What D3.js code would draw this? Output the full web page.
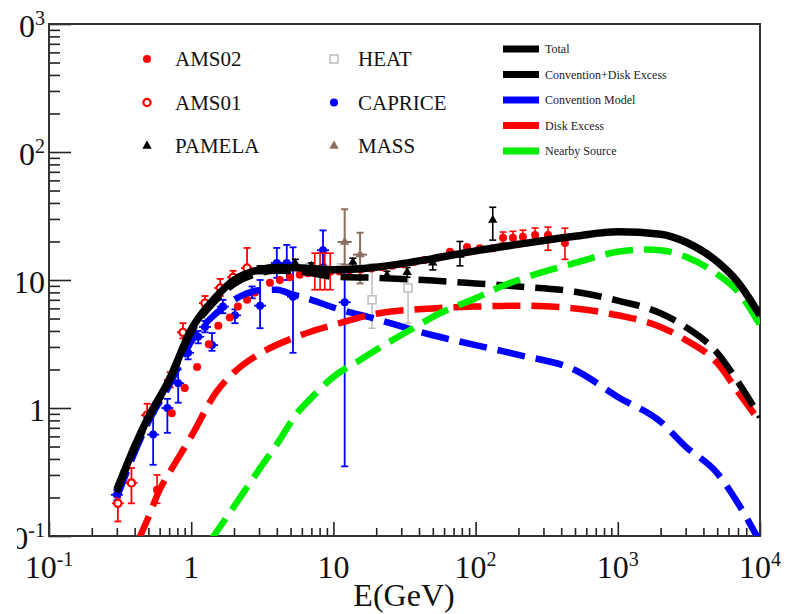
<!DOCTYPE html>
<html><head><meta charset="utf-8">
<script src="https://cdn.jsdelivr.net/npm/d3@7"></script>
<style>
body{margin:0;background:#fff}
svg{display:block}
</style>
</head><body>
<svg id="c" width="795" height="614" font-family="'Liberation Serif','Times New Roman',Times,serif"></svg>
<script>
// ---------- data ----------
const curveE   = [0.3,0.4,0.5,0.7,1,1.5,2,3,4,5,7,10,20,50,100,200,500,1000,2000,3000,5000,7000,10000];
const total    = [0.23,0.5,0.85,1.66,4.1,7.4,10,12,12.5,12.5,12.3,12.0,12.6,14.7,16.9,19.0,22.0,23.8,22.8,19.8,13.9,9.6,5.3];
const convDisk = [0.22,0.48,0.82,1.6,3.9,7.0,9.3,11.3,11.8,11.8,11.3,10.6,10.4,9.9,9.4,8.9,8.1,6.9,5.5,4.3,2.7,1.6,0.85];
const conv     = [0.2,0.45,0.78,1.5,3.3,5.5,7.0,8.3,8.4,7.8,7.0,6.1,4.95,3.7,3.1,2.6,1.98,1.22,0.78,0.5,0.31,0.18,0.09];
const diskE    = [0.42,0.5,0.6,0.7,1,1.5,2,3,5,7,10,20,50,100,200,500,1000,2000,3000,5000,7000,10000];
const disk     = [0.09,0.14,0.23,0.31,0.6,1.33,1.9,2.64,3.46,3.96,4.45,5.45,6.0,6.2,6.3,6.0,5.3,4.3,3.4,2.25,1.34,0.78];
const nearbyE  = [1.35,1.5,2,3,4,5.55,7,10,15.4,20,34.6,56,100,148,200,334,500,1000,1600,2000,3000,5000,7000,10000];
const nearby   = [0.09,0.107,0.17,0.33,0.52,0.91,1.2,1.75,2.37,2.85,4.07,5.5,7.2,8.8,10.0,12.0,13.6,16.6,17.3,17.1,15.2,11.1,8.1,4.45];

// [E, flux, errLow, errHigh]
const ams02 = [[0.575,0.23,0.18,0.30],[0.73,0.91],[0.9,1.43],[1.1,2.09],[1.33,3.15],[1.55,4.4],[1.87,5.1],[2.13,6.2],
  [2.47,7.0],[2.81,8.0],[3.58,9.5],[4.2,10.0],[4.95,10.5],[5.8,11.0],[6.6,11.3],[7.4,11.6,8.4,16.2],[8.06,11.6,8.4,16.2],
  [8.7,11.6,8.4,16.2],[9.5,11.6,8.4,16.2],[11,11.7],[13,11.9],[15.5,12.1],[18.5,12.3],[22,12.6],[26,12.9],[31,13.3],
  [37,13.8],[44,14.3],[53.6,14.9],[66,16.6],[87,18.1],[107,17.7],[132,17.7],[156,21.4,19.4,23.7],[183,21.4,19.2,24],
  [215,21.8,19.5,24.5],[262,22.5,19.8,25.5],[323,22.5,17.1,25.9],[425,19.5,14.5,25.4]];
const ams01 = [[0.305,0.18,0.13,0.2],[0.38,0.26,0.18,0.34],[0.49,0.88,0.8,1.08],[0.71,1.66,1.45,1.9],[0.875,3.9,3.5,4.6],
  [1.25,6.6,5.9,7.5],[1.6,8.66,7.5,10.2],[1.97,10.5,9.5,11.8],[2.47,12.4,10.5,17.8]];
const pamela = [[3.05,12.0,11.2,12.9],[3.6,12.1,11.3,12.9],[4.3,12.3,11.5,13.1],[5.4,13.5,12.6,14.5],[7.0,12.8,12.0,13.6],
  [13.7,13.8,12.8,14.8],[23.8,10.9,10.2,11.7],[33,11.5,10.5,12.5],[50,13.6,12.0,14.9],[77.6,15.7,12.9,20],[132,29.4,20.5,37]];
const heat = [[6.8,12.6,11.6,13.4],[11.2,12.0,11,13.4],[18.7,7.0,4.2,13.4],[33.5,8.66,4.6,13.6]];
const caprice = [[0.3,0.21,0.19,0.23],[0.54,0.62,0.36,0.91],[0.68,1.0,0.64,1.18],[0.81,1.56,1.1,2.0],[0.95,2.7,2.4,3.0],
  [1.12,3.6,3.2,4.0],[1.25,4.3,3.9,4.8],[1.4,3.1,2.8,3.85],[1.67,6.2,5.5,7.0],[2.03,5.3,4.6,5.9],[2.68,8.0,7.2,8.9],
  [3.05,6.3,4.2,10],[4.0,13.6,10.4,17.8],[4.7,13.6,10,18.8],[5.2,7.4,2.7,18],[8.45,17.1,13.2,24.4],[12.0,6.7,0.35,12.4]];
const mass = [[12,19.8,13.2,35.7],[15.4,15.8,9.4,23.4]];

const xTickVals = [0.1,1,10,100,1000,10000];
const xTickLabels = [["10","-1"],["1",""],["10",""],["10","2"],["10","3"],["10","4"]];
const yTickVals = [0.1,1,10,100,1000];
const yTickLabels = [["10","-1"],["1",""],["10",""],["10","2"],["10","3"]];
const markerLegend = ["AMS02","AMS01","PAMELA","HEAT","CAPRICE","MASS"];
const lineLegend = ["Total","Convention+Disk Excess","Convention Model","Disk Excess","Nearby Source"];

// ---------- layout ----------
const FONT = "'Liberation Serif','Times New Roman',Times,serif";
const L=49, R=760, T=24, B=536;
const svg = d3.select("#c");
const x = d3.scaleLog().domain([0.1,1e4]).range([L,R]);
const y = d3.scaleLog().domain([0.1,1e3]).range([B,T]);

const defs = svg.append("defs");
defs.append("clipPath").attr("id","clip")
  .append("rect").attr("x",L).attr("y",T).attr("width",R-L).attr("height",B-T);
defs.append("clipPath").attr("id","clipY")
  .append("rect").attr("x",17).attr("y",0).attr("width",60).attr("height",614);

// minor ticks
const minorX=[], minorY=[];
for(let d=0.1; d<1e4; d*=10) for(let k=2;k<10;k++) minorX.push(d*k);
for(let d=0.1; d<1e3; d*=10) for(let k=2;k<10;k++) minorY.push(d*k);

function tickG(axisFn, vals, size, tr){
  const g = svg.append("g").attr("transform",tr).call(axisFn.tickValues(vals).tickSize(size).tickFormat(""));
  g.select(".domain").remove();
  g.selectAll("line").attr("stroke","#222").attr("stroke-width",1.6);
}
tickG(d3.axisBottom(x), minorX, -8, `translate(0,${B})`);
tickG(d3.axisBottom(x), xTickVals, -14, `translate(0,${B})`);
tickG(d3.axisLeft(y), minorY, -11, `translate(${L},0)`);
tickG(d3.axisLeft(y), yTickVals, -22, `translate(${L},0)`);

// frame
svg.append("rect").attr("x",L).attr("y",T).attr("width",R-L).attr("height",B-T)
  .attr("fill","none").attr("stroke","#333").attr("stroke-width",2);

// tick labels
const xl = svg.append("g");
xTickVals.forEach((v,i)=>{
  const t = xl.append("text").attr("x",x(v)).attr("y",578).attr("text-anchor","middle")
    .attr("font-family",FONT).attr("font-size",32).attr("fill","#111");
  t.append("tspan").text(xTickLabels[i][0]);
  if(xTickLabels[i][1]) t.append("tspan").attr("dy",-12).attr("font-size",20).text(xTickLabels[i][1]);
});
const yl = svg.append("g").attr("clip-path","url(#clipY)");
yTickVals.forEach((v,i)=>{
  const t = yl.append("text").attr("x",45).attr("y",y(v)+13).attr("text-anchor","end")
    .attr("font-family",FONT).attr("font-size",32).attr("fill","#111");
  t.append("tspan").text(yTickLabels[i][0]);
  if(yTickLabels[i][1]) t.append("tspan").attr("dy",-12).attr("font-size",20).text(yTickLabels[i][1]);
});
svg.append("text").attr("x",404).attr("y",606).attr("text-anchor","middle")
  .attr("font-family",FONT).attr("font-size",32).attr("fill","#111").text("E(GeV)");

// ---------- markers ----------
function marker(g, type, cx, cy, color){
  if(type==="dot") g.append("circle").attr("cx",cx).attr("cy",cy).attr("r",4).attr("fill",color);
  else if(type==="open") g.append("circle").attr("cx",cx).attr("cy",cy).attr("r",3.6).attr("fill","#fff").attr("stroke",color).attr("stroke-width",2.2);
  else if(type==="tri") g.append("path").attr("d",d3.symbol(d3.symbolTriangle).size(38)()).attr("transform",`translate(${cx},${cy})`).attr("fill",color);
  else if(type==="sq") g.append("rect").attr("x",cx-4).attr("y",cy-4).attr("width",8).attr("height",8).attr("fill","#fff").attr("stroke",color).attr("stroke-width",1.5);
}
const pts = svg.append("g").attr("clip-path","url(#clip)");
function series(data, type, color, sw, xbar){
  const g = pts.append("g");
  data.forEach(d=>{
    const cx=x(d[0]), cy=y(d[1]);
    if(d.length>2){
      g.append("line").attr("x1",cx).attr("x2",cx).attr("y1",y(d[2])).attr("y2",y(d[3])).attr("stroke",color).attr("stroke-width",sw);
      [d[2],d[3]].forEach(v=>g.append("line").attr("x1",cx-3.5).attr("x2",cx+3.5).attr("y1",y(v)).attr("y2",y(v)).attr("stroke",color).attr("stroke-width",sw));
      if(xbar){
        g.append("line").attr("x1",cx-xbar).attr("x2",cx+xbar).attr("y1",cy).attr("y2",cy).attr("stroke",color).attr("stroke-width",sw);
      }
    }
    marker(g,type,cx,cy,color);
  });
}
series(heat,"sq","#bdbdbd",1.5,0);
series(mass,"tri","#8c6e5d",2,7);
series(caprice,"dot","#0000ff",1.8,6);
series(ams01,"open","#ff0000",1.8,6);
series(pamela,"tri","#000",1.6,0);
series(ams02,"dot","#ff0000",1.6,0);

// ---------- curves ----------
const curves = svg.append("g").attr("clip-path","url(#clip)");
function curve(E, V, color, dashed, w){
  const line = d3.line().x(d=>x(d[0])).y(d=>y(d[1])).curve(d3.curveMonotoneX);
  curves.append("path").datum(E.map((e,i)=>[e,V[i]])).attr("d",line)
    .attr("fill","none").attr("stroke",color).attr("stroke-width",w)
    .attr("stroke-dasharray",dashed?"28,11":null);
}
curve(curveE, conv, "#0000ff", true, 6.5);
curve(diskE, disk, "#ff0000", true, 6.5);
curve(curveE, convDisk, "#000", true, 6.5);
curve(nearbyE, nearby, "#00ee00", true, 6.5);
curve(curveE, total, "#000", false, 7.5);

// ---------- legends ----------
const lg = svg.append("g");
const mTypes = [["dot","#ff0000"],["open","#ff0000"],["tri","#000"],["sq","#bdbdbd"],["dot","#0000ff"],["tri","#8c6e5d"]];
markerLegend.forEach((name,i)=>{
  const col = Math.floor(i/3), row = i%3;
  const mx = col ? 334 : 147, tx = col ? 358 : 175, my = 59 + row*43.5;
  marker(lg, mTypes[i][0], mx, my, mTypes[i][1]);
  lg.append("text").attr("x",tx).attr("y",my+7).attr("font-family",FONT).attr("font-size",21)
    .attr("fill","#111").text(name);
});
const lineCols = ["#000","#000","#0000ff","#ff0000","#00ee00"];
lineLegend.forEach((name,i)=>{
  const ly = 49 + i*25.5;
  lg.append("rect").attr("x",503).attr("y",ly-3.5).attr("width",36).attr("height",7).attr("fill",lineCols[i]);
  lg.append("text").attr("x",545).attr("y",ly+4).attr("font-family",FONT).attr("font-size",12)
    .attr("fill","#222").text(name);
});
</script>
</body></html>
